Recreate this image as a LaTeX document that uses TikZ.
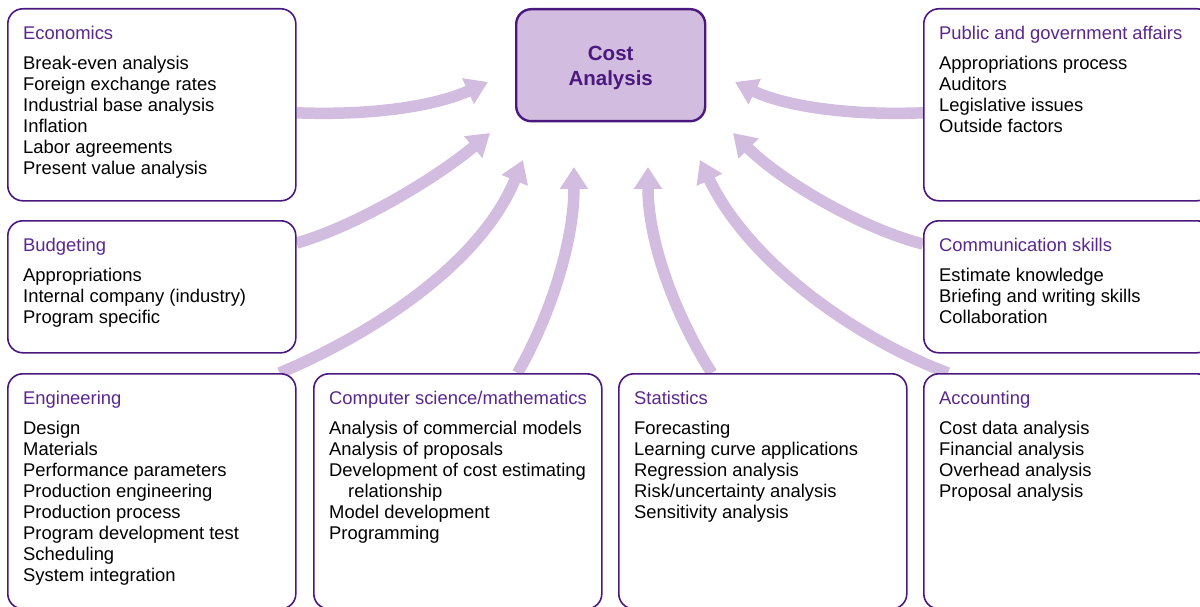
\documentclass[tikz,border=0pt]{standalone}
\usepackage{fontspec}
\setmainfont{Liberation Sans}
\usetikzlibrary{arrows.meta}
\pgfdeclarelayer{background}
\pgfsetlayers{background,main}

\definecolor{boxline}{RGB}{75,24,128}
\definecolor{headpurple}{RGB}{90,40,140}
\definecolor{flowfill}{RGB}{210,188,223}

\tikzset{
  field/.style={draw=boxline, line width=1.6pt, rounded corners=15pt, fill=white,
    anchor=north west, minimum width=288pt, inner sep=0pt},
  fieldtext/.style={anchor=north west, align=left, inner sep=0pt,
    font=\fontsize{18.4}{21}\selectfont},
  flow/.style={draw=flowfill, line width=11.5pt, -{Triangle[width=27pt,length=22pt]}},
}

\begin{document}
\begin{tikzpicture}[x=1pt, y=-1pt]
  \useasboundingbox (0,0) rectangle (1200,607);

  % Centre box
  \node[draw=boxline, line width=2.4pt, fill=flowfill, rounded corners=15pt,
    minimum width=189pt, minimum height=112pt, anchor=north west] (cost) at (515,8) {};
  \node[align=center, text=boxline, inner sep=0pt,
    font=\bfseries\fontsize{20.5}{25}\selectfont] (cost-txt) at ([yshift=-3pt]cost.center) {Cost\\Analysis};

  % Left column
  \node[field, minimum height=192pt] (econ) at (7,8) {};
  \node[field, minimum height=132pt] (budg) at (7,220) {};
  \node[field, minimum height=235pt] (engr) at (7,373) {};

  % Bottom row
  \node[field, minimum height=235pt] (comp) at (313,373) {};
  \node[field, minimum height=235pt] (stat) at (618,373) {};

  % Right column
  \node[field, minimum height=235pt] (acct) at (923,373) {};
  \node[field, minimum height=132pt] (comm) at (923,220) {};
  \node[field, minimum height=192pt] (pub) at (923,8) {};

  % Box texts
  \node[fieldtext] (econ-txt) at ([shift={(16,18)}]econ.north west)
    {\textcolor{headpurple}{Economics}\\[9pt]
     Break-even analysis\\ Foreign exchange rates\\ Industrial base analysis\\
     Inflation\\ Labor agreements\\ Present value analysis};
  \node[fieldtext] (budg-txt) at ([shift={(16,18)}]budg.north west)
    {\textcolor{headpurple}{Budgeting}\\[9pt]
     Appropriations\\ Internal company (industry)\\ Program specific};
  \node[fieldtext] (engr-txt) at ([shift={(16,18)}]engr.north west)
    {\textcolor{headpurple}{Engineering}\\[9pt]
     Design\\ Materials\\ Performance parameters\\ Production engineering\\
     Production process\\ Program development test\\ Scheduling\\ System integration};
  \node[fieldtext] (comp-txt) at ([shift={(16,18)}]comp.north west)
    {\textcolor{headpurple}{Computer science/mathematics}\\[9pt]
     Analysis of commercial models\\ Analysis of proposals\\
     Development of cost estimating\\ \hspace*{19pt}relationship\\
     Model development\\ Programming};
  \node[fieldtext] (stat-txt) at ([shift={(16,18)}]stat.north west)
    {\textcolor{headpurple}{Statistics}\\[9pt]
     Forecasting\\ Learning curve applications\\ Regression analysis\\
     Risk/uncertainty analysis\\ Sensitivity analysis};
  \node[fieldtext] (acct-txt) at ([shift={(16,18)}]acct.north west)
    {\textcolor{headpurple}{Accounting}\\[9pt]
     Cost data analysis\\ Financial analysis\\ Overhead analysis\\ Proposal analysis};
  \node[fieldtext] (comm-txt) at ([shift={(16,18)}]comm.north west)
    {\textcolor{headpurple}{Communication skills}\\[9pt]
     Estimate knowledge\\ Briefing and writing skills\\ Collaboration};
  \node[fieldtext] (pub-txt) at ([shift={(16,18)}]pub.north west)
    {\textcolor{headpurple}{Public and government affairs}\\[9pt]
     Appropriations process\\ Auditors\\ Legislative issues\\ Outside factors};

  % Arrow tips round the centre box
  \coordinate (tip-econ) at (488,82);
  \coordinate (tip-budg) at (490,133);
  \coordinate (tip-engr) at (523,160);
  \coordinate (tip-comp) at (574,167);
  \coordinate (tip-stat) at (648,167);
  \coordinate (tip-acct) at (700,160);
  \coordinate (tip-comm) at (733,133);
  \coordinate (tip-pub) at (735,82);

  % Curved arrows, behind the boxes
  \begin{pgfonlayer}{background}
    \draw[flow] ([yshift=-8pt]econ.east) .. controls (380,116) and (440,104) .. (tip-econ);
    \draw[flow] ([yshift=-23pt]budg.north east) .. controls (360,225) and (440,175) .. (tip-budg);
    \draw[flow] ([xshift=-17pt]engr.north east) .. controls (370,335) and (480,265) .. (tip-engr);
    \draw[flow] ([xshift=-85pt]comp.north east) .. controls (548,320) and (574,245) .. (tip-comp);
    \draw[flow] ([xshift=-51pt]stat.north) .. controls (678,320) and (648,245) .. (tip-stat);
    \draw[flow] ([xshift=25pt]acct.north west) .. controls (860,340) and (750,265) .. (tip-acct);
    \draw[flow] ([yshift=-24pt]comm.north west) .. controls (860,228) and (780,180) .. (tip-comm);
    \draw[flow] ([yshift=-8pt]pub.west) .. controls (840,116) and (780,104) .. (tip-pub);
  \end{pgfonlayer}
\end{tikzpicture}
\end{document}
